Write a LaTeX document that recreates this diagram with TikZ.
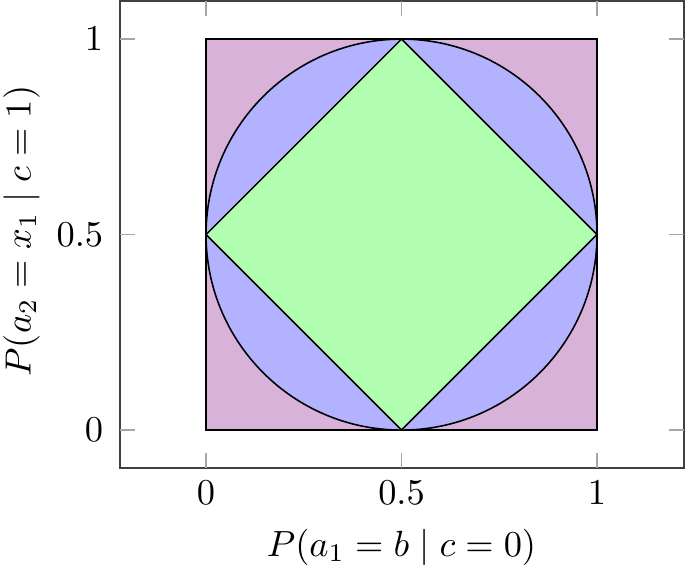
\documentclass[tikz,border=0pt]{standalone}
\usepackage{amssymb, amsfonts, amsmath}
\usepackage{tikz}
\usetikzlibrary{calc}

\begin{document}
\begin{tikzpicture}[x=111.7pt, y=111.7pt, lbl/.style={scale=1.04, inner sep=1pt}]
\useasboundingbox (-0.527, -0.348) rectangle (1.225, 1.100);
\filldraw[fill=violet!30, draw=black, line width=0.45pt] (0, 0) rectangle (1, 1);
\filldraw[fill=blue!30, draw=black, line width=0.45pt] (0.5, 0.5) circle (0.5);
\filldraw[fill=green!30, draw=black, line width=0.45pt] (0.5, 0) -- (1, 0.5) -- (0.5, 1) -- (0, 0.5) -- cycle;
\draw[black!75, line width=0.6pt] (-0.22, -0.097) rectangle (1.222, 1.097);
\foreach \t in {0, 0.5, 1} {
  \draw[gray!70, line width=0.4pt] (\t, -0.097) -- ++(0, 0.039);
  \draw[gray!70, line width=0.4pt] (\t, 1.097) -- ++(0, -0.039);
  \draw[gray!70, line width=0.4pt] (-0.22, \t) -- ++(0.039, 0);
  \draw[gray!70, line width=0.4pt] (1.222, \t) -- ++(-0.039, 0);
}
\node[lbl] (xt0) at (0, -0.161) {$0$};
\node[lbl] (xt5) at (0.5, -0.161) {$0.5$};
\node[lbl] (xt1) at (1, -0.161) {$1$};
\node[lbl, anchor=east] (yt0) at (-0.252, 0) {$0$};
\node[lbl, anchor=east] (yt5) at (-0.252, 0.5) {$0.5$};
\node[lbl, anchor=east] (yt1) at (-0.252, 1) {$1$};
\node[lbl] (xlabel) at (0.5, -0.30) {$P(a_1 = b \mid c = 0)$};
\node[lbl, rotate=90] (ylabel) at (-0.472, 0.509) {$P(a_2 = x_1 \mid c = 1)$};
\end{tikzpicture}
\end{document}
